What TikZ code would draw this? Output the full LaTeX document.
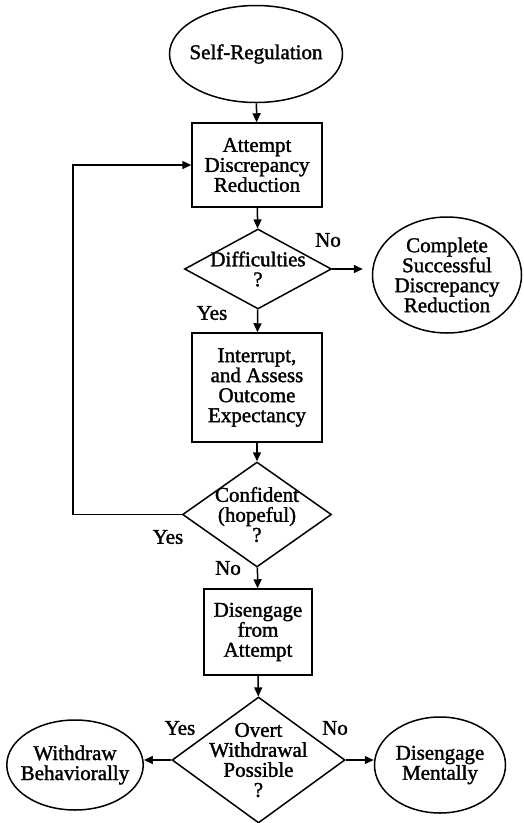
\documentclass[tikz,border=0pt]{standalone}
\usepackage{fontspec}
\setmainfont{Liberation Serif}[FakeBold=1.5]
\usetikzlibrary{shapes.geometric}
\usetikzlibrary{arrows.meta}

\begin{document}
\begin{tikzpicture}[x=1pt,y=1pt,line width=1.5pt,
  font=\fontsize{21}{20}\selectfont,
  every node/.style={align=center},
  >={Triangle[length=9pt,width=8pt]},
  term/.style={ellipse,draw,inner sep=-6pt},
  stepbox/.style={rectangle,draw,inner sep=0pt},
  query/.style={diamond,draw,inner sep=-30pt},
  answer/.style={inner sep=0pt}]
\useasboundingbox (0,0) rectangle (524,-823);

\node[term,minimum width=173,minimum height=97] (sr) at (256,-54) {Self-Regulation};
\node[stepbox,minimum width=130,minimum height=84] (att) at (257,-165) {Attempt\\Discrepancy\\Reduction};
\node[query,minimum width=147,minimum height=80] (dif) at (258,-269) {Difficulties\\?};
\node[term,minimum width=149,minimum height=116] (comp) at (447,-275) {Complete\\Successful\\Discrepancy\\Reduction};
\node[stepbox,minimum width=130,minimum height=109] (intr) at (257,-387.5) {Interrupt,\\and Assess\\Outcome\\Expectancy};
\node[query,minimum width=149,minimum height=105] (conf) at (257,-514.5) {Confident\\(hopeful)\\?};
\node[stepbox,minimum width=108,minimum height=86] (dis) at (258,-632) {Disengage\\from\\Attempt};
\node[query,minimum width=173,minimum height=126] (overt) at (258.5,-760) {Overt\\Withdrawal\\Possible\\?};
\node[term,minimum width=131,minimum height=90] (wb) at (75,-765) {Withdraw\\Behaviorally};
\node[term,minimum width=131,minimum height=96] (dm) at (440,-765) {Disengage\\Mentally};

\node[answer] (no1) at (328,-240) {No};
\node[answer] (yes1) at (212,-313) {Yes};
\node[answer] (yes2) at (168,-537) {Yes};
\node[answer] (no2) at (228,-568) {No};
\node[answer] (yes3) at (180,-728) {Yes};
\node[answer] (no3) at (335,-728) {No};

\draw[->] (sr) -- (att);
\draw[->] (att) -- (dif);
\draw[->,shorten >=9pt] (dif.east) -- (comp.west |- dif.east);
\draw[->] (dif) -- (intr);
\draw[->] (intr) -- (conf);
\draw[->] (conf.west) -- ++(-109,0) |- (att.west);
\draw[->] (conf) -- (dis);
\draw[->] (dis) -- (overt);
\draw[->] (overt.west) -- (wb.east |- overt.west);
\draw[->] (overt.east) -- (dm.west |- overt.east);
\end{tikzpicture}
\end{document}
